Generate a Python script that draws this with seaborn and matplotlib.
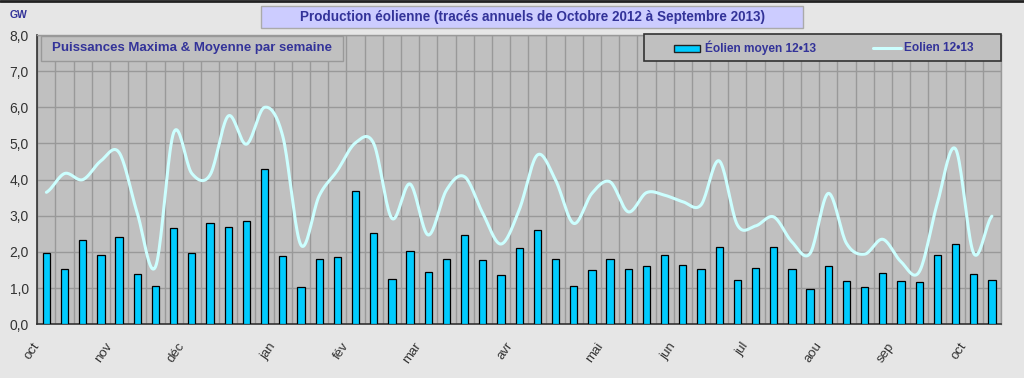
import numpy as np
import pandas as pd
import matplotlib
matplotlib.use("Agg")
import matplotlib.pyplot as plt
import seaborn as sns
from matplotlib.patches import Rectangle
from matplotlib.lines import Line2D

# ---------------- data ----------------
weeks = list(range(53))
eolien_moyen = [1.97, 1.52, 2.33, 1.93, 2.42, 1.38, 1.06, 2.65, 1.97, 2.81,
                2.70, 2.87, 4.30, 1.88, 1.04, 1.80, 1.85, 3.69, 2.53, 1.24,
                2.04, 1.45, 1.81, 2.47, 1.77, 1.35, 2.10, 2.60, 1.81, 1.06,
                1.49, 1.81, 1.54, 1.60, 1.91, 1.63, 1.52, 2.13, 1.22, 1.56,
                2.13, 1.52, 0.98, 1.60, 1.20, 1.02, 1.43, 1.20, 1.16, 1.92,
                2.22, 1.38, 1.22]
eolien_max = [3.65, 4.17, 4.00, 4.52, 4.75, 3.07, 1.59, 5.30, 4.17, 4.13,
              5.76, 4.98, 6.00, 5.20, 2.19, 3.55, 4.25, 5.02, 5.00, 2.93,
              3.88, 2.47, 3.71, 4.08, 3.07, 2.22, 3.16, 4.68, 3.99, 2.79,
              3.62, 3.94, 3.11, 3.64, 3.57, 3.39, 3.30, 4.52, 2.75, 2.72,
              2.97, 2.28, 1.96, 3.62, 2.24, 1.94, 2.35, 1.73, 1.45, 3.35,
              4.85, 1.96, 2.99]
month_labels = ["oct", "nov", "déc", "jan", "fév", "mar", "avr", "mai",
                "jun", "jul", "aou", "sep", "oct"]
month_week = [0, 4, 8, 13, 17, 21, 26, 31, 35, 39, 43, 47, 51]
y_ticks = [0, 1, 2, 3, 4, 5, 6, 7, 8]

title = "Production éolienne (tracés annuels de Octobre 2012 à Septembre 2013)"
subtitle = "Puissances Maxima & Moyenne par semaine"
label_bar = "Éolien moyen 12•13"
label_line = "Eolien 12•13"

# ---------------- style ----------------
sns.set_theme(style="white")
plt.rcParams['font.family'] = ['Liberation Sans', 'DejaVu Sans']

NAVY = "#333399"
BG = "#e6e6e6"
PLOT_BG = "#c0c0c0"
GRID = "#999999"
BAR = "#00ccff"
LINE = "#ccffff"
TXT = "#333333"

W, H = 1024, 378
fig = plt.figure(figsize=(W / 100, H / 100), dpi=100, facecolor=BG)

L, R, T, B = 37.3, 1001, 35, 324.3
ax = fig.add_axes([L / W, 1 - B / H, (R - L) / W, (B - T) / H])
ax.set_facecolor(PLOT_BG)

df = pd.DataFrame({"semaine": weeks, "moyen": eolien_moyen})
sns.barplot(data=df, x="semaine", y="moyen", color=BAR, saturation=1,
            width=0.4, edgecolor="black", linewidth=0.9, ax=ax, zorder=3)


def catmull_rom(y, n=20):
    y = np.asarray(y, float)
    p = np.concatenate([[y[0]], y, [y[-1]]])
    xs, ys = [], []
    for i in range(len(y) - 1):
        p0, p1, p2, p3 = p[i], p[i + 1], p[i + 2], p[i + 3]
        t = np.linspace(0, 1, n, endpoint=False)
        v = 0.5 * ((2 * p1) + (-p0 + p2) * t + (2 * p0 - 5 * p1 + 4 * p2 - p3) * t ** 2
                   + (-p0 + 3 * p1 - 3 * p2 + p3) * t ** 3)
        xs.append(i + t)
        ys.append(v)
    xs.append([len(y) - 1])
    ys.append([y[-1]])
    return np.concatenate(xs), np.concatenate(ys)


sx, sy = catmull_rom(eolien_max)
line_df = pd.DataFrame({"x": sx, "y": sy})
sns.lineplot(data=line_df, x="x", y="y", color=LINE, linewidth=2.2,
             sort=False, estimator=None, ax=ax, zorder=4)

ax.set_xlim(-0.5, 52.5)
ax.set_ylim(0, 8)
ax.set_xlabel("")
ax.set_ylabel("")

# grid
for k in range(54):
    ax.axvline(k - 0.5, color=GRID, lw=1, zorder=1)
for v in y_ticks[1:]:
    ax.axhline(v, color=GRID, lw=1, zorder=1)

# ticks
bounds = np.arange(-0.5, 53, 1)
ax.set_xticks(bounds)
labels = [""] * len(bounds)
for m, w in zip(month_labels, month_week):
    labels[w] = m
ax.set_xticklabels(labels, rotation=55, ha="right", va="center",
                   rotation_mode="anchor", fontsize=9.5, color=TXT)
ax.set_yticks(y_ticks)
ax.set_yticklabels([f"{v:.1f}".replace(".", ",") for v in y_ticks],
                   fontsize=10, color=TXT)
ax.tick_params(axis="x", direction="out", length=4, width=1, color=TXT, pad=10)
ax.tick_params(axis="y", direction="out", length=4, width=1, color=TXT, pad=2)

for s in ["left", "bottom"]:
    ax.spines[s].set_color(TXT)
    ax.spines[s].set_linewidth(1.2)
for s in ["top", "right"]:
    ax.spines[s].set_color(GRID)
    ax.spines[s].set_linewidth(1)


def px_rect(x0, y0, x1, y1, fc, ec, lw=1.0):
    r = Rectangle((x0 / W, 1 - y1 / H), (x1 - x0) / W, (y1 - y0) / H,
                  transform=fig.transFigure, facecolor=fc, edgecolor=ec,
                  linewidth=lw, zorder=10)
    fig.add_artist(r)


def px_text(x, y, s, **kw):
    fig.text(x / W, 1 - y / H, s, zorder=11, **kw)


# title box
px_rect(261, 6, 803, 28, "#ccccff", "#aaaaaa")
px_text(532, 17.5, title, ha="center", va="center", fontsize=9.75,
        fontweight="bold", color=NAVY)

# GW unit
px_text(19, 15.5, "GW", ha="center", va="center", fontsize=7.5,
        fontweight="bold", color=NAVY)

# subtitle box
px_rect(41, 36, 343, 61, PLOT_BG, "#999999")
px_text(192, 48.5, subtitle, ha="center", va="center", fontsize=9.5,
        fontweight="bold", color=NAVY)

# legend box
px_rect(644, 34, 1001, 61, PLOT_BG, "#333333", lw=1.2)
px_rect(674, 44.5, 700, 51.5, BAR, "#222222", lw=1.0)
px_text(705, 48, label_bar, ha="left", va="center", fontsize=8.6,
        fontweight="bold", color=NAVY)
fig.add_artist(Line2D([873 / W, 901 / W], [1 - 48 / H, 1 - 48 / H],
                      transform=fig.transFigure, color=LINE, lw=2.2, zorder=11))
px_text(904, 48, label_line, ha="left", va="center", fontsize=8.6,
        fontweight="bold", color=NAVY)

# top border line
fig.add_artist(Line2D([0, 1], [1 - 0.8 / H, 1 - 0.8 / H],
                      transform=fig.transFigure, color="#222222", lw=2, zorder=12))

fig.savefig("out.png", dpi=100, facecolor=BG)
